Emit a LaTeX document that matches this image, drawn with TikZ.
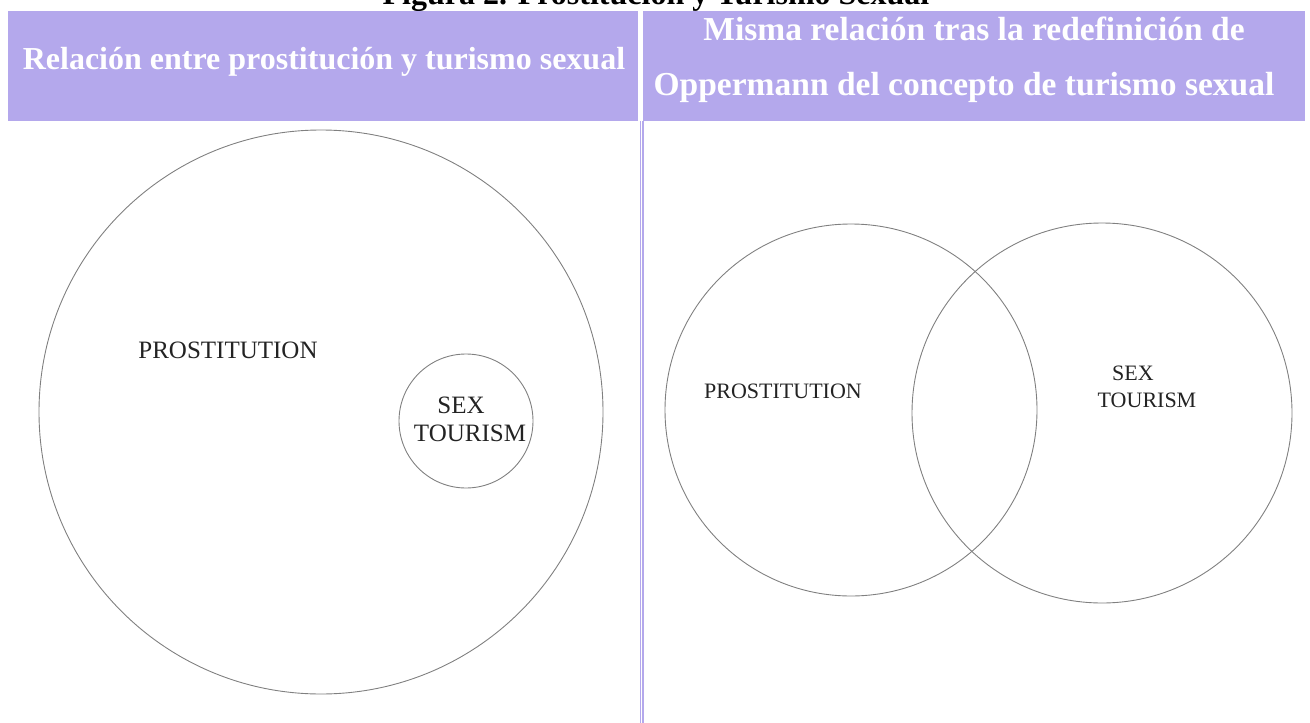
\documentclass[tikz,border=0pt]{standalone}
\usepackage{fontspec}
\setmainfont{Liberation Serif}
\definecolor{lila}{RGB}{180,168,236}
\definecolor{ink}{RGB}{35,35,35}

\begin{document}
\begin{tikzpicture}[x=1pt,y=-1pt]
       \tikzstyle{band} = [fill=lila];
       \tikzstyle{head} = [text=white, font=\fontsize{32}{32}\selectfont\bfseries, anchor=base];
       \tikzstyle{set} = [draw=black!50, line width=0.9pt];
       \tikzstyle{big} = [ink, font=\fontsize{25}{25}\selectfont, anchor=base];
       \tikzstyle{small} = [ink, font=\fontsize{22}{22}\selectfont, anchor=base];
       \useasboundingbox (0,0) rectangle (1310,723);
       % title, cut at the top edge
       \node[anchor=base, font=\fontsize{32}{32}\selectfont\bfseries] (title) at (656,4) {Figura 2. Prostitución y Turismo Sexual};
       % header cells
       \fill[band] (8,11) rectangle (638,121);
       \fill[band] (643,11) rectangle (1305,121);
       \node[head] (lefthead) at (324,69) {Relación entre prostitución y turismo sexual};
       \node[head, font=\fontsize{33.5}{33.5}\selectfont\bfseries] (righthead1) at (974,40) {Misma relación tras la redefinición de};
       \node[head, font=\fontsize{33.5}{33.5}\selectfont\bfseries] (righthead2) at (964,95) {Oppermann del concepto de turismo sexual};
       % double rule between the cells
       \fill[band] (639.5,121) rectangle (641,723);
       \fill[band] (642,121) rectangle (643.5,723);
       % left: sex tourism inside prostitution
       \draw[set] (321,412) circle (282);
       \draw[set] (466,421) circle (67);
       \node[big] (prost) at (228,358) {PROSTITUTION};
       \node[big] (sex) at (461,413) {SEX};
       \node[big] (tour) at (470,441) {TOURISM};
       % right: overlapping sets
       \draw[set] (851,410) circle (186);
       \draw[set] (1102,413) circle (190);
       \node[small] (prost2) at (783,398) {PROSTITUTION};
       \node[small] (sex2) at (1133,380) {SEX};
       \node[small] (tour2) at (1147,407) {TOURISM};
\end{tikzpicture}
\end{document}
